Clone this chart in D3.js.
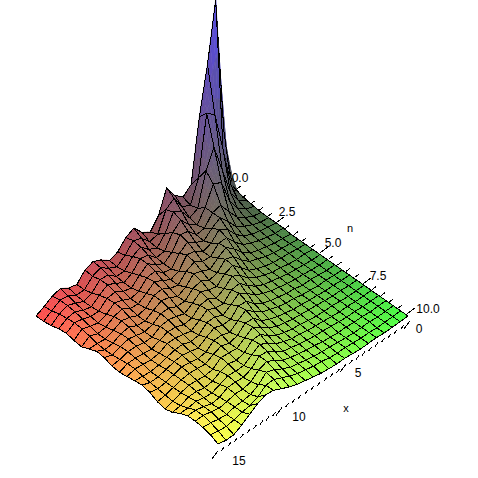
<!DOCTYPE html>
<html>
<head>
<meta charset="utf-8">
<script src="https://cdn.jsdelivr.net/npm/d3@7"></script>
<style>
  html, body { margin: 0; padding: 0; background: #fff; }
  text { font-family: "Liberation Sans", Arial, sans-serif; font-size: 12px; fill: #000; }
</style>
</head>
<body>
<svg id="plot" width="478" height="478"></svg>
<script>
// surface height, one row per n step, one column per x step
const heights = [
  [8,68,204,145,98,36,29,36,49,27,16,21,31,27,18,15,21,25,22,13,15,20,18,13,9],
  [5,18,60,100,107,48,26,30,44,38,19,17,26,29,20,14,18,24,21,13,13,18,19,14,9],
  [3,8,22,50,78,60,28,24,36,41,25,16,20,28,24,15,15,22,23,15,12,16,19,16,10],
  [2,5,11,24,48,52,34,22,28,38,31,18,17,25,27,18,14,19,23,18,12,14,18,17,12],
  [1,3,7,13,24,36,34,24,23,32,34,22,16,21,27,21,14,16,21,20,13,13,16,18,13],
  [1,2,5,9,14,25,34,29,22,26,32,26,16,18,25,24,16,14,18,21,15,12,14,17,11],
  [1,2,4,6,10,17,28,33,25,22,28,30,19,16,21,25,19,14,15,20,18,13,12,15,10],
  [1,1,3,5,8,12,20,30,30,22,23,28,24,16,18,23,22,15,13,17,19,15,12,13,13],
  [0,1,2,4,6,9,15,24,31,26,20,24,27,19,15,20,22,18,13,14,18,17,13,12,16],
  [0,1,2,3,5,8,11,18,27,30,22,20,25,23,16,16,20,20,15,13,15,17,15,12,15],
  [0,1,2,3,4,6,9,13,21,29,26,19,21,25,19,14,17,19,18,13,13,15,15,13,12],
  [0,1,1,2,4,5,8,11,16,24,29,22,18,23,22,15,14,17,18,15,12,13,14,14,11],
  [0,0,1,2,3,5,7,9,13,19,27,26,18,19,23,18,13,15,17,17,13,12,13,14,12],
  [0,0,1,2,3,4,6,8,11,15,22,28,22,17,21,21,14,13,16,16,14,12,11,12,13],
  [0,0,1,2,2,4,5,7,9,12,17,25,26,18,18,21,17,12,14,16,15,13,11,11,14],
  [0,0,1,1,2,3,5,6,8,11,14,20,27,22,16,19,19,13,12,14,15,13,11,10,12],
  [0,0,1,1,2,3,4,5,7,9,12,16,24,25,18,16,19,16,12,13,14,13,11,9,8],
  [0,0,1,1,2,3,4,5,6,8,10,14,20,26,21,16,17,18,12,11,12,13,11,8,6],
  [0,0,0,1,2,2,3,4,6,7,9,12,17,24,24,17,15,17,15,11,10,12,12,9,8],
  [0,0,0,1,1,2,3,4,5,7,8,11,14,20,25,20,15,15,16,13,10,11,13,12,12],
  [0,0,0,1,1,2,3,4,5,6,8,10,12,17,23,24,17,14,15,15,11,10,13,15,15],
  [0,0,0,1,1,2,2,3,4,6,7,9,11,14,19,24,21,15,13,14,12,11,13,15,15],
  [0,0,0,1,1,1,2,3,4,5,6,8,10,12,16,21,24,17,13,12,12,10,11,13,14],
  [0,0,0,0,1,1,2,3,3,4,6,7,9,11,14,18,22,22,16,13,12,10,9,10,12],
  [0,0,0,0,1,1,1,2,3,3,4,5,7,9,11,14,18,22,23,20,15,10,6,6,8]
];
const xTicks = [0, 5, 10, 15];
const nTicks = [0, 2.5, 5, 7.5, 10];
const nLabels = ["0.0", "2.5", "5.0", "7.5", "10.0"];

const xMax = 15, nMax = 10, zMax = 204;
const steps = heights.length - 1;
const svg = d3.select("#plot");

// floor of the box: corners on the screen
const backEdge = d3.scaleLinear().domain([0, xMax]).range([[232, 193], [36, 325]]);
const frontEdge = d3.scaleLinear().domain([0, xMax]).range([[408, 316], [218, 452]]);
const nPos = d3.scaleLinear().domain([0, nMax]).range([0, 1]);
const zPos = d3.scaleLinear().domain([0, zMax]).range([0, 204]);

function project(x, n, z) {
  const a = backEdge(x), b = frontEdge(x), t = nPos(n);
  return [a[0] + (b[0] - a[0]) * t, a[1] + (b[1] - a[1]) * t - zPos(z)];
}

const red = d3.scaleLinear().domain([0, xMax]).range([72, 255]);
const green = d3.scaleLinear().domain([0, nMax]).range([76, 255]);
const blue = d3.scaleLinear().domain([0, zMax]).range([68, 240]);

// bilinear look up inside one cell, so each cell can be shaded in small pieces
function sample(i, j, u, v) {
  const z = (1 - v) * ((1 - u) * heights[j][i] + u * heights[j][i + 1]) +
    v * ((1 - u) * heights[j + 1][i] + u * heights[j + 1][i + 1]);
  return { x: (i + u) * xMax / steps, n: (j + v) * nMax / steps, z };
}

const pieces = 3;
const cells = [];
d3.range(steps).forEach(j => d3.range(steps).forEach(i => cells.push({ i, j })));
cells.sort((a, b) => (a.i + a.j) - (b.i + b.j));

function quad(corners) {
  return "M" + corners.map(c => project(c.x, c.n, c.z).join(",")).join("L") + "Z";
}

cells.forEach(({ i, j }) => {
  const g = svg.append("g");
  const parts = [];
  d3.range(pieces).forEach(b => d3.range(pieces).forEach(a => parts.push({ a, b })));
  g.selectAll("path")
    .data(parts)
    .join("path")
    .attr("d", d => quad([
      sample(i, j, d.a / pieces, d.b / pieces),
      sample(i, j, (d.a + 1) / pieces, d.b / pieces),
      sample(i, j, (d.a + 1) / pieces, (d.b + 1) / pieces),
      sample(i, j, d.a / pieces, (d.b + 1) / pieces)
    ]))
    .each(function (d) {
      const m = sample(i, j, (d.a + 0.5) / pieces, (d.b + 0.5) / pieces);
      const c = `rgb(${red(m.x)},${green(m.n)},${blue(m.z)})`;
      d3.select(this).attr("fill", c).attr("stroke", c).attr("stroke-width", 0.6);
    });
  g.append("path")
    .attr("d", quad([sample(i, j, 0, 0), sample(i, j, 1, 0), sample(i, j, 1, 1), sample(i, j, 0, 1)]))
    .attr("fill", "none")
    .attr("stroke", "#000")
    .attr("stroke-width", 1)
    .attr("shape-rendering", "crispEdges");
});

// axes
const axisN = d3.scaleLinear().domain([0, nMax]).range([[233, 192], [407, 314]]);
const axisX = d3.scaleLinear().domain([0, xMax]).range([[410, 321], [218, 451]]);

function drawAxis(scale, minorStep, major, tickDir, minorLen, majorLen) {
  const dom = scale.domain();
  const line = [scale(dom[0]), scale(dom[1])];
  svg.append("path").attr("d", "M" + line.join("L"))
    .attr("stroke", "#000").attr("fill", "none").attr("shape-rendering", "crispEdges");
  const ticks = d3.range(dom[0], dom[1] + minorStep / 2, minorStep);
  svg.selectAll(null).data(ticks).join("line")
    .attr("x1", d => scale(d)[0])
    .attr("y1", d => scale(d)[1])
    .attr("x2", d => scale(d)[0] + tickDir[0] * (major.includes(d) ? majorLen : minorLen))
    .attr("y2", d => scale(d)[1] + tickDir[1] * (major.includes(d) ? majorLen : minorLen))
    .attr("stroke", "#000")
    .attr("shape-rendering", "crispEdges");
}
drawAxis(axisN, 0.5, nTicks, [0.8, -0.6], 5, 10);
drawAxis(axisX, 0.5, xTicks, [-0.6, 0.8], 5, 10);

const nLabelPos = [[240, 178], [287, 212], [333, 243], [378, 276], [428, 309]];
svg.selectAll(null).data(nTicks).join("text")
  .attr("x", (d, i) => nLabelPos[i][0])
  .attr("y", (d, i) => nLabelPos[i][1] + 4)
  .attr("text-anchor", "middle")
  .text((d, i) => nLabels[i]);
const xLabelPos = [[419, 329], [358, 373], [299, 417], [239, 461]];
svg.selectAll(null).data(xTicks).join("text")
  .attr("x", (d, i) => xLabelPos[i][0])
  .attr("y", (d, i) => xLabelPos[i][1] + 4)
  .attr("text-anchor", "middle")
  .text(d => d);
svg.append("text").attr("x", 350).attr("y", 232).attr("text-anchor", "middle").style("font-size", "11px").text("n");
svg.append("text").attr("x", 346).attr("y", 412).attr("text-anchor", "middle").style("font-size", "11px").text("x");
</script>
</body>
</html>
